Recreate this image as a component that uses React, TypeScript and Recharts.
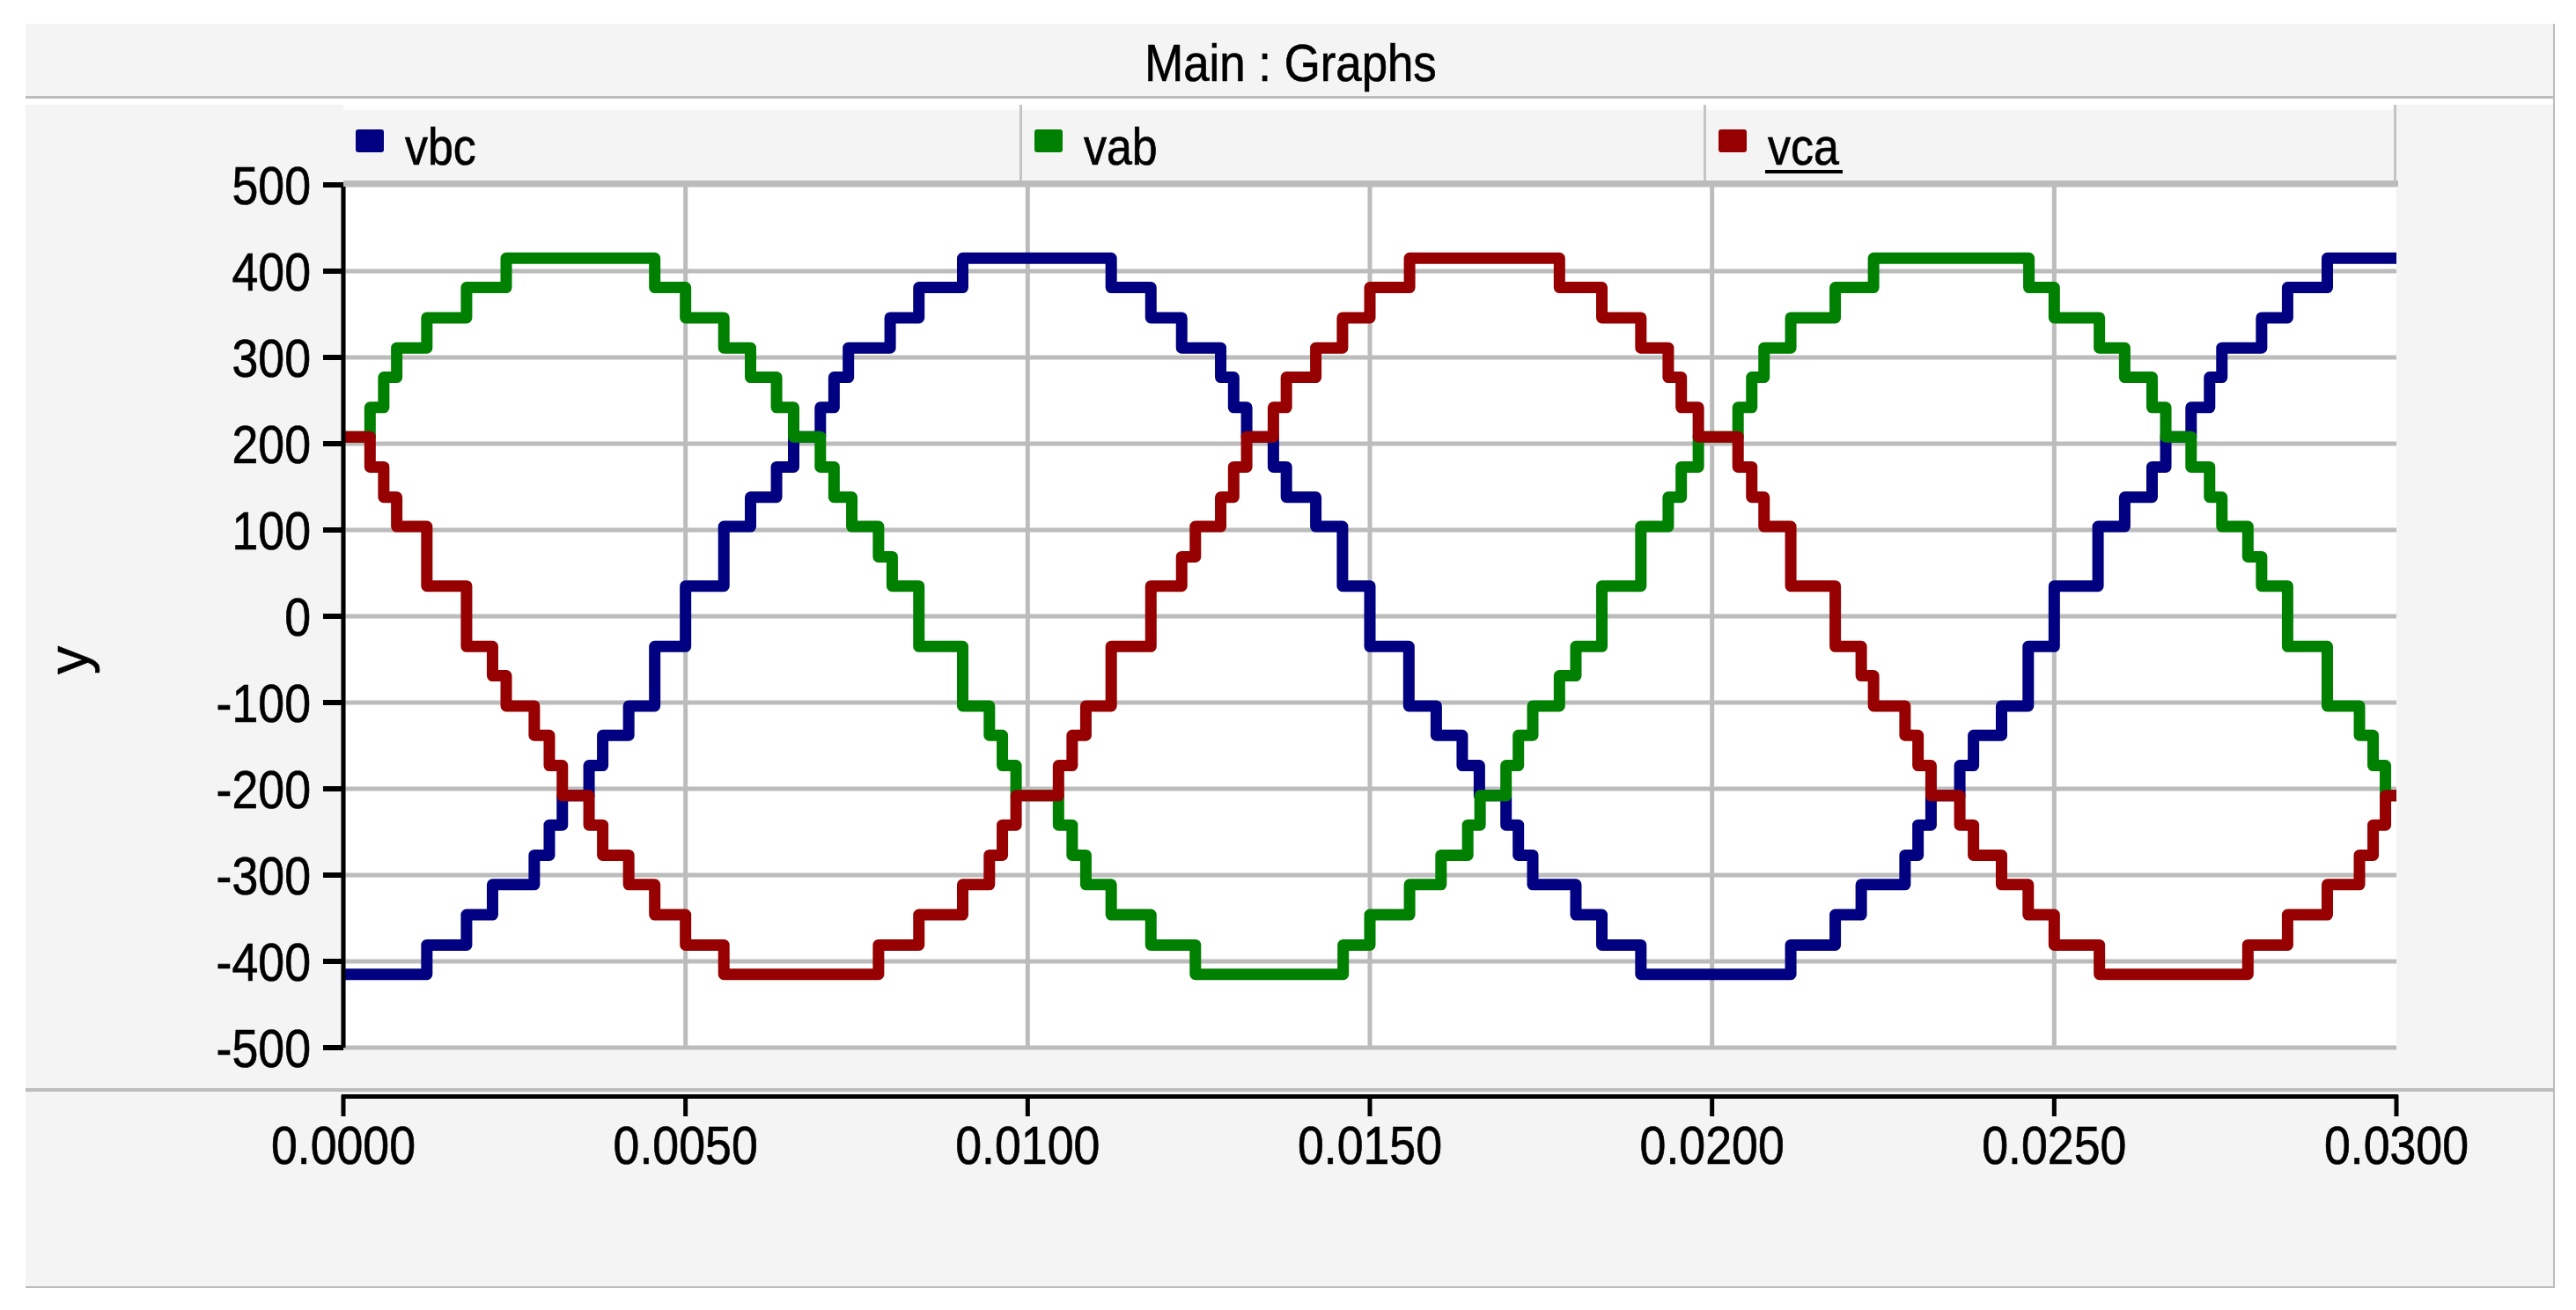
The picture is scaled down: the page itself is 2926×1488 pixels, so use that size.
import { LineChart, Line, XAxis, YAxis, CartesianGrid } from 'recharts'

const FONT = '"Liberation Sans", Arial, sans-serif'

const seriesNames = ['vbc', 'vab', 'vca']
const seriesColors = ['#000080', '#008000', '#960000']

// step instants in ms, value (V) held after each instant
const vbcTime = [0, 1.22, 1.8, 2.18, 2.79, 3.01, 3.2, 3.59, 3.79, 4.17, 4.55, 5.0, 5.56, 5.95, 6.33, 6.58, 6.97, 7.17, 7.38, 7.99, 8.41, 9.05, 11.22, 11.8, 12.25, 12.82, 13.01, 13.2, 13.59, 13.78, 14.21, 14.6, 15.0, 15.57, 15.97, 16.35, 16.6, 16.99, 17.17, 17.38, 18.01, 18.39, 18.96, 21.15, 21.8, 22.18, 22.82, 23.01, 23.2, 23.62, 23.82, 24.23, 24.62, 25.0, 25.64, 26.03, 26.43, 26.63, 27.0, 27.27, 27.45, 28.03, 28.41, 28.99, 30]
const vbcValue = [-415, -381, -346, -311, -277, -242, -208, -173, -138, -104, -35, 35, 104, 138, 173, 208, 242, 277, 311, 346, 381, 415, 381, 346, 311, 277, 242, 208, 173, 138, 104, 35, -35, -104, -138, -173, -208, -242, -277, -311, -346, -381, -415, -381, -346, -311, -277, -242, -208, -173, -138, -104, -35, 35, 104, 138, 173, 208, 242, 277, 311, 346, 381, 415, 415]

const vabTime = [0, 0.39, 0.59, 0.78, 1.22, 1.8, 2.38, 4.55, 5.0, 5.56, 5.95, 6.33, 6.58, 6.97, 7.17, 7.43, 7.82, 8.02, 8.41, 9.05, 9.44, 9.63, 9.83, 10.45, 10.65, 10.85, 11.22, 11.8, 12.45, 14.61, 15.0, 15.58, 16.04, 16.43, 16.61, 16.99, 17.17, 17.38, 17.77, 18.01, 18.39, 18.96, 19.36, 19.55, 19.8, 20.38, 20.58, 20.76, 21.15, 21.8, 22.36, 24.63, 25.0, 25.66, 26.03, 26.43, 26.63, 27.0, 27.27, 27.45, 27.83, 28.03, 28.41, 28.99, 29.46, 29.66, 29.84, 30]
const vabValue = [208, 242, 277, 311, 346, 381, 415, 381, 346, 311, 277, 242, 208, 173, 138, 104, 69, 35, -35, -104, -138, -173, -208, -242, -277, -311, -346, -381, -415, -381, -346, -311, -277, -242, -208, -173, -138, -104, -69, -35, 35, 104, 138, 173, 208, 242, 277, 311, 346, 381, 415, 381, 346, 311, 277, 242, 208, 173, 138, 104, 69, 35, -35, -104, -138, -173, -208, -208]

const vcaTime = [0, 0.39, 0.59, 0.78, 1.22, 1.8, 2.18, 2.38, 2.79, 3.01, 3.2, 3.59, 3.79, 4.17, 4.55, 5.0, 5.56, 7.82, 8.41, 9.05, 9.44, 9.63, 9.83, 10.45, 10.65, 10.85, 11.22, 11.8, 12.25, 12.45, 12.82, 13.01, 13.2, 13.59, 13.78, 14.21, 14.6, 15.0, 15.58, 17.77, 18.39, 18.96, 19.36, 19.55, 19.8, 20.38, 20.58, 20.76, 21.15, 21.8, 22.18, 22.36, 22.82, 23.01, 23.2, 23.62, 23.82, 24.23, 24.62, 25.0, 25.66, 27.83, 28.41, 28.99, 29.46, 29.66, 29.84, 30]
const vcaValue = [208, 173, 138, 104, 35, -35, -69, -104, -138, -173, -208, -242, -277, -311, -346, -381, -415, -381, -346, -311, -277, -242, -208, -173, -138, -104, -35, 35, 69, 104, 138, 173, 208, 242, 277, 311, 346, 381, 415, 381, 346, 311, 277, 242, 208, 173, 138, 104, 35, -35, -69, -104, -138, -173, -208, -242, -277, -311, -346, -381, -415, -381, -346, -311, -277, -242, -208, -208]

const xTicks = [0, 0.005, 0.01, 0.015, 0.02, 0.025, 0.03]
const yTicks = [-500, -400, -300, -200, -100, 0, 100, 200, 300, 400, 500]

const toPoints = (time: number[], value: number[]) =>
  time.map((t, i) => ({ t: t / 1000, v: value[i] }))

const series = [
  toPoints(vbcTime, vbcValue),
  toPoints(vabTime, vabValue),
  toPoints(vcaTime, vcaValue),
]

// legend cells across the top of the plot
const cellLeft = [390, 1161, 1938]
const cellRight = [1161, 1938, 2722]

// the source font is a little narrow and heavy, squeeze it sideways
function Label({ x, y, size, anchor = 'start', children }: any) {
  return (
    <text
      transform={`translate(${x},${y}) scale(0.88,1)`}
      textAnchor={anchor}
      fontSize={size}
      fontFamily={FONT}
      fill="#000"
      stroke="#000"
      strokeWidth={0.7}
    >
      {children}
    </text>
  )
}

function XTick({ x, y, payload }: any) {
  return (
    <g>
      <line x1={x} x2={x} y1={y + 54} y2={y + 78} stroke="#000" strokeWidth={5} />
      <Label x={x} y={y + 132} size={61} anchor="middle">
        {Number(payload.value).toFixed(4)}
      </Label>
    </g>
  )
}

function YTick({ x, y, payload }: any) {
  return (
    <Label x={x} y={y + 22} size={61} anchor="end">
      {payload.value}
    </Label>
  )
}

export default function App() {
  return (
    <div style={{ position: 'absolute', left: 0, top: 0, width: 2926, height: 1488, background: '#fff' }}>
      {/* panel background */}
      <div style={{ position: 'absolute', left: 29, top: 27, width: 2873, height: 1435, background: '#f4f4f4' }} />

      <div style={{ position: 'absolute', left: 0, top: 0 }}>
        <LineChart width={2926} height={1488} margin={{ top: 210, right: 204, bottom: 198, left: 270 }}>
          <CartesianGrid
            fill="#ffffff"
            stroke="#bcbcbc"
            strokeWidth={5}
            verticalValues={xTicks.slice(0, -1)}
          />
          <XAxis
            dataKey="t"
            type="number"
            domain={[0, 0.03]}
            ticks={xTicks}
            interval={0}
            height={100}
            axisLine={false}
            tickLine={false}
            tickSize={0}
            tickMargin={0}
            tick={<XTick />}
          />
          <YAxis
            type="number"
            domain={[-500, 500]}
            ticks={yTicks}
            interval={0}
            width={120}
            tickSize={23}
            tickMargin={14}
            axisLine={{ stroke: '#000', strokeWidth: 5 }}
            tickLine={{ stroke: '#000', strokeWidth: 6 }}
            tick={<YTick />}
          />
          {series.map((d, i) => (
            <Line
              key={seriesNames[i]}
              data={d}
              dataKey="v"
              name={seriesNames[i]}
              type="stepAfter"
              stroke={seriesColors[i]}
              strokeWidth={13}
              strokeLinejoin="round"
              dot={false}
              activeDot={false}
              isAnimationActive={false}
            />
          ))}
        </LineChart>
      </div>

      {/* frame, title bar, legend, axis decorations */}
      <svg width={2926} height={1488} style={{ position: 'absolute', left: 0, top: 0, pointerEvents: 'none' }}>
        <rect x={29} y={109} width={2873} height={3} fill="#bcbcbc" />
        <rect x={29} y={112} width={2873} height={7} fill="#ffffff" />
        <Label x={1466} y={92} size={60} anchor="middle">Main : Graphs</Label>

        {seriesNames.map((name, i) => (
          <g key={name}>
            <rect x={cellLeft[i]} y={119} width={cellRight[i] - cellLeft[i]} height={86} fill="#f4f4f4" />
            <rect x={cellLeft[i]} y={119} width={cellRight[i] - cellLeft[i]} height={6} fill="#fcfcfc" />
            <rect x={cellRight[i] - 3} y={119} width={3} height={90} fill="#c4c4c4" />
            <rect x={cellLeft[i] + 14} y={147} width={32} height={26} rx={3} fill={seriesColors[i]} />
            <Label x={cellLeft[i] + 70} y={187} size={59}>{name}</Label>
          </g>
        ))}
        <rect x={2005} y={193} width={88} height={4} fill="#000" />
        <rect x={390} y={205} width={2334} height={7} fill="#bcbcbc" />

        <text transform="translate(100,750) rotate(-90)" textAnchor="middle" fontSize={64} fontFamily={FONT} fill="#000" stroke="#000" strokeWidth={0.7}>
          y
        </text>

        <rect x={29} y={1236} width={2873} height={4} fill="#bcbcbc" />
        <rect x={388} y={1243} width={2336} height={5} fill="#000" />
        <rect x={29} y={1461} width={2873} height={2} fill="#bcbcbc" />
        <rect x={2900} y={27} width={2} height={1436} fill="#bcbcbc" />
      </svg>
    </div>
  )
}
